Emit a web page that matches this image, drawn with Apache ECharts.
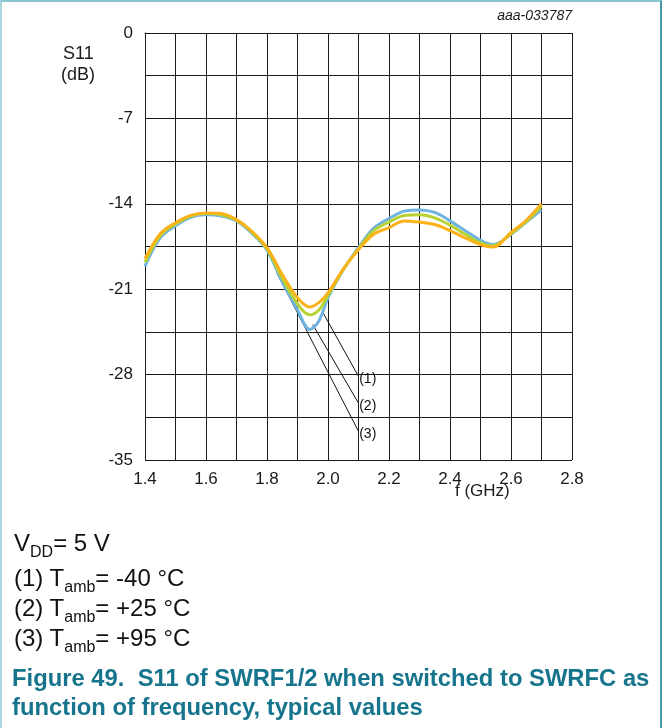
<!DOCTYPE html>
<html>
<head>
<meta charset="utf-8">
<script src="https://cdn.jsdelivr.net/npm/echarts@6/dist/echarts.min.js"></script>
<style>
  html, body { margin: 0; padding: 0; background: #fff; }
  #wrap { position: relative; width: 662px; height: 728px; box-sizing: border-box;
          border-top: 2px solid #8cc4d0; border-left: 2px solid #a9d6df; border-right: 2px solid #4a95a7; }
  #chart { position: absolute; left: -2px; top: -2px; width: 662px; height: 728px; }
  .note { position: absolute; left: 12px; font-family: "Liberation Sans", Arial, sans-serif; font-size: 24px; color: #111; white-space: nowrap; line-height: 1; }
  .note sub { font-size: 16px; vertical-align: -6px; line-height: 0; }
  .cap { position: absolute; left: 10px; font-family: "Liberation Sans", Arial, sans-serif; font-weight: bold; font-size: 23.8px; color: #16758c; white-space: nowrap; line-height: 1; }
</style>
</head>
<body>
<div id="wrap">
  <div id="chart"></div>
  <div class="note" style="top:529px">V<sub>DD</sub>= 5 V</div>
  <div class="note" style="top:564px">(1) T<sub>amb</sub>= -40 °C</div>
  <div class="note" style="top:594px">(2) T<sub>amb</sub>= +25 °C</div>
  <div class="note" style="top:624px">(3) T<sub>amb</sub>= +95 °C</div>
  <div class="cap" style="top:664px">Figure 49.&nbsp; S11 of SWRF1/2 when switched to SWRFC as</div>
  <div class="cap" style="top:693px">function of frequency, typical values</div>
</div>
<script>
// Frequencies (GHz)
var freq = [1.40, 1.45, 1.50, 1.55, 1.60, 1.65, 1.70, 1.75, 1.80, 1.85, 1.90, 1.94, 1.97, 2.00, 2.05, 2.10, 2.15, 2.20, 2.25, 2.30, 2.35, 2.40, 2.45, 2.50, 2.54, 2.60, 2.65, 2.70];
// (1) Tamb = -40 °C
var s11_m40 = [-19.1, -16.8, -15.8, -15.1, -14.9, -15.0, -15.4, -16.4, -17.8, -20.4, -22.7, -24.3, -23.6, -21.7, -19.4, -17.6, -16.0, -15.2, -14.6, -14.5, -14.7, -15.4, -16.2, -17.0, -17.35, -16.5, -15.5, -14.5];
// (2) Tamb = +25 °C
var s11_p25 = [-18.8, -16.6, -15.65, -15.0, -14.8, -14.9, -15.35, -16.3, -17.7, -20.1, -22.2, -23.1, -22.7, -21.5, -19.4, -17.7, -16.2, -15.5, -14.95, -14.9, -15.15, -15.75, -16.5, -17.2, -17.45, -16.45, -15.45, -14.2];
// (3) Tamb = +95 °C
var s11_p95 = [-18.5, -16.45, -15.55, -14.95, -14.75, -14.8, -15.3, -16.25, -17.6, -19.8, -21.7, -22.45, -22.1, -21.3, -19.35, -17.75, -16.5, -15.95, -15.4, -15.5, -15.7, -16.2, -16.8, -17.35, -17.55, -16.35, -15.35, -14.0];
// Leader lines (GHz, dB): start on curve, end at label
var leaderLabels = ['(1)', '(2)', '(3)'];
var leaderStart = [[1.983, -22.9], [1.950, -23.9], [1.832, -19.65]];
var leaderEnd = [[2.099, -28.1], [2.099, -30.3], [2.099, -32.6]];
// Axis tick labels
var xTickLabels = ['1.4', '1.6', '1.8', '2.0', '2.2', '2.4', '2.6', '2.8'];
var yTickLabels = ['0', '-7', '-14', '-21', '-28', '-35'];

var FONT = '"Liberation Sans", Arial, sans-serif';
function pairs(v) { return freq.map(function (f, i) { return [f, v[i]]; }); }

var curveColors = ['#6fb3e0', '#b7d332', '#fbb118'];
var curveData = [s11_m40, s11_p25, s11_p95];
var curveNames = ['Tamb = -40 °C', 'Tamb = +25 °C', 'Tamb = +95 °C'];

var series = [];
leaderLabels.forEach(function (lab, i) {
  series.push({
    type: 'line', silent: true, symbol: 'none', z: 1,
    lineStyle: { color: '#111', width: 1 },
    endLabel: { show: true, formatter: lab, distance: 1, offset: [0, 3],
                fontFamily: FONT, fontSize: 14, color: '#111' },
    data: [leaderStart[i], leaderEnd[i]]
  });
});
curveData.forEach(function (d, i) {
  series.push({
    name: curveNames[i], type: 'line', smooth: 0.35, symbol: 'none', z: 3 + i,
    lineStyle: { color: curveColors[i], width: 3 },
    data: pairs(d)
  });
});

var chart = echarts.init(document.getElementById('chart'), null, { renderer: 'canvas' });
chart.setOption({
  animation: false,
  backgroundColor: 'transparent',
  grid: { left: 145, right: 90, top: 33, bottom: 268, containLabel: false },
  xAxis: {
    type: 'value', min: 1.4, max: 2.8, interval: 0.1,
    axisLine: { show: true, lineStyle: { color: '#1a1a1a', width: 1 } },
    axisTick: { show: false },
    splitLine: { show: true, lineStyle: { color: '#1a1a1a', width: 1 } },
    axisLabel: {
      margin: 11, fontFamily: FONT, fontSize: 17, color: '#1a1a1a',
      formatter: function (v) {
        var k = Math.round(v * 10);
        var s = (k / 10).toFixed(1);
        return xTickLabels.indexOf(s) >= 0 ? s : '';
      }
    }
  },
  yAxis: {
    type: 'value', min: -35, max: 0, interval: 3.5,
    axisLine: { show: true, lineStyle: { color: '#1a1a1a', width: 1 } },
    axisTick: { show: false },
    splitLine: { show: true, lineStyle: { color: '#1a1a1a', width: 1 } },
    axisLabel: {
      margin: 12, fontFamily: FONT, fontSize: 17, color: '#1a1a1a',
      formatter: function (v) {
        var s = String(Math.round(v * 10) / 10);
        return yTickLabels.indexOf(s) >= 0 ? s : '';
      }
    }
  },
  graphic: [
    { type: 'text', left: 63, top: 45, style: { text: 'S11', fontFamily: FONT, fontSize: 18, fill: '#1a1a1a' } },
    { type: 'text', left: 61, top: 66, style: { text: '(dB)', fontFamily: FONT, fontSize: 18, fill: '#1a1a1a' } },
    { type: 'text', left: 455, top: 483, style: { text: 'f (GHz)', fontFamily: FONT, fontSize: 17, fill: '#1a1a1a' } },
    { type: 'text', right: 90, top: 9, style: { text: 'aaa-033787', fontFamily: FONT, fontSize: 14, fontStyle: 'italic', fill: '#1a1a1a' } }
  ],
  series: series
});
</script>
</body>
</html>
